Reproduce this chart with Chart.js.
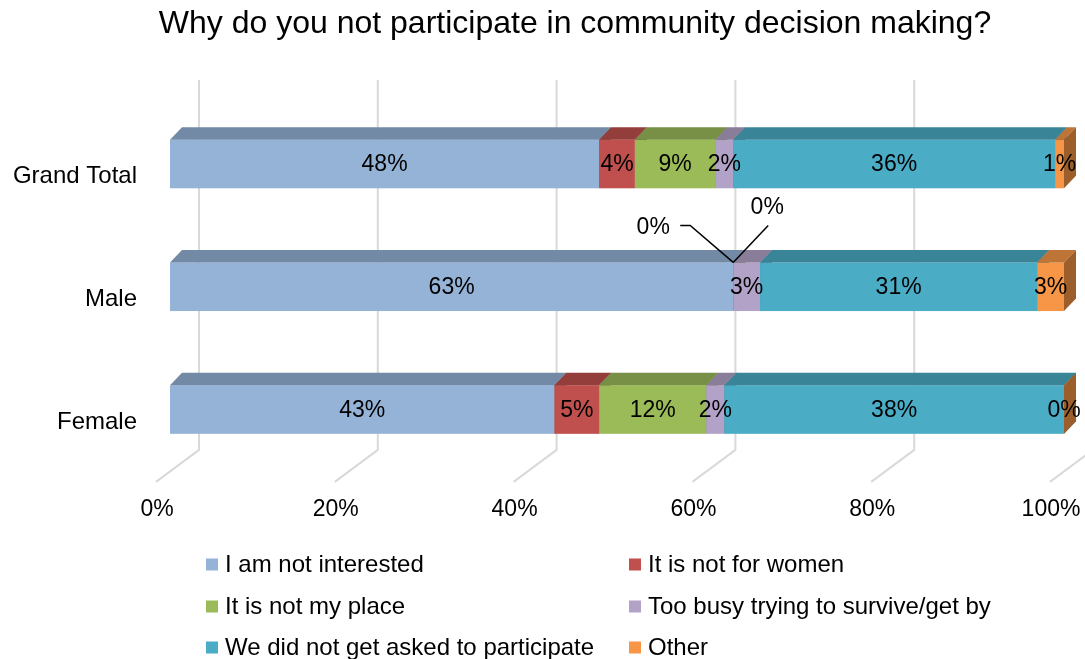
<!DOCTYPE html>
<html>
<head>
<meta charset="utf-8">
<script src="https://cdn.jsdelivr.net/npm/chart.js@4.4.1/dist/chart.umd.min.js"></script>
<style>
  html, body { margin: 0; padding: 0; background: #ffffff; }
  #wrap { width: 1085px; height: 659px; position: relative; }
</style>
</head>
<body>
<div id="wrap"><canvas id="chart" width="1085" height="659"></canvas></div>
<script>
// Survey answers, share of respondents (%) per group
const categories = ['Grand Total', 'Male', 'Female'];
const seriesNames = [
  'I am not interested',
  'It is not for women',
  'It is not my place',
  'Too busy trying to survive/get by',
  'We did not get asked to participate',
  'Other'
];
const notInterested = [48, 63, 43];
const notForWomen   = [4, 0, 5];
const notMyPlace    = [9, 0, 12];
const tooBusy       = [2, 3, 2];
const notAsked      = [36, 31, 38];
const other         = [1, 3, 0];
const xTickStep = 20;

const seriesValues = [notInterested, notForWomen, notMyPlace, tooBusy, notAsked, other];
const seriesColors = ['#95B3D7', '#C0504D', '#9BBB59', '#B3A2C7', '#4BACC6', '#F79646'];

const FONT = "'Liberation Sans', Arial, Helvetica, sans-serif";
Chart.defaults.font.family = FONT;
Chart.defaults.color = '#000000';

function shade(hex, f) {
  const n = parseInt(hex.slice(1), 16);
  const r = Math.round(((n >> 16) & 255) * f);
  const g = Math.round(((n >> 8) & 255) * f);
  const b = Math.round((n & 255) * f);
  return `rgb(${r},${g},${b})`;
}

// Centre the title over a chosen horizontal span
const titleSpan = {
  id: 'titleSpan',
  afterLayout(chart, args, o) {
    const tb = chart.titleBlock;
    if (tb) {
      tb.left = o.left;
      tb.right = o.right;
      tb.width = o.right - o.left;
    }
  }
};

// Back wall / floor gridlines, extruded boxes and value labels
const box3d = {
  id: 'box3d',
  beforeDatasetsDraw(chart, args, o) {
    const { ctx, chartArea } = chart;
    const xs = chart.scales.x;
    ctx.save();
    ctx.strokeStyle = o.gridColor;
    ctx.lineWidth = o.gridWidth;
    xs.ticks.forEach(t => {
      const px = xs.getPixelForValue(t.value) + o.wallShift;
      const floorBack = chartArea.bottom + o.floorBackDy;
      ctx.beginPath();
      ctx.moveTo(px, chartArea.top + o.wallTopDy);
      ctx.lineTo(px, floorBack);
      ctx.lineTo(px + o.floorDx, floorBack + o.floorDy);
      ctx.stroke();
    });
    ctx.restore();
  },
  beforeDatasetDraw() {
    return false; // flat bars are replaced by the boxes below
  },
  afterDatasetsDraw(chart, args, o) {
    const { ctx } = chart;
    const dx = o.depthX, dy = o.depthY;
    ctx.save();
    chart.data.datasets.forEach((ds, di) => {
      const meta = chart.getDatasetMeta(di);
      const c = ds.backgroundColor;
      meta.data.forEach(el => {
        const p = el.getProps(['x', 'y', 'base', 'height'], true);
        const x0 = Math.min(p.x, p.base), x1 = Math.max(p.x, p.base);
        const top = p.y - p.height / 2, bottom = p.y + p.height / 2;
        // front
        ctx.fillStyle = c;
        ctx.fillRect(x0, top, x1 - x0, bottom - top);
        // top
        ctx.fillStyle = shade(c, o.topShade);
        ctx.beginPath();
        ctx.moveTo(x0, top);
        ctx.lineTo(x0 + dx, top + dy);
        ctx.lineTo(x1 + dx, top + dy);
        ctx.lineTo(x1, top);
        ctx.closePath();
        ctx.fill();
        // right side
        ctx.fillStyle = shade(c, o.sideShade);
        ctx.beginPath();
        ctx.moveTo(x1, top);
        ctx.lineTo(x1 + dx, top + dy);
        ctx.lineTo(x1 + dx, bottom + dy);
        ctx.lineTo(x1, bottom);
        ctx.closePath();
        ctx.fill();
      });
    });

    // value labels
    ctx.font = `${o.labelSize}px ${FONT}`;
    ctx.textAlign = 'center';
    ctx.textBaseline = 'middle';
    ctx.fillStyle = '#000000';
    ctx.strokeStyle = '#000000';
    ctx.lineWidth = 1.5;
    chart.data.datasets.forEach((ds, di) => {
      const meta = chart.getDatasetMeta(di);
      meta.data.forEach((el, i) => {
        const p = el.getProps(['x', 'y', 'base', 'height'], true);
        const text = Math.round(ds.data[i]) + '%';
        const call = o.callouts[i + ':' + di];
        if (call) {
          const ax = Math.min(p.x, p.base), ay = p.y - p.height / 2;
          ctx.beginPath();
          call.line.forEach((pt, k) => {
            if (k === 0) ctx.moveTo(ax + pt[0], ay + pt[1]);
            else ctx.lineTo(ax + pt[0], ay + pt[1]);
          });
          ctx.stroke();
          ctx.fillText(text, ax + call.text[0], ay + call.text[1]);
        } else {
          ctx.fillText(text, (p.x + p.base) / 2, p.y + 1);
        }
      });
    });
    ctx.restore();
  }
};

// Two-column legend under the plot
const gridLegend = {
  id: 'gridLegend',
  afterDraw(chart, args, o) {
    const { ctx } = chart;
    ctx.save();
    ctx.font = `${o.size}px ${FONT}`;
    ctx.textAlign = 'left';
    ctx.textBaseline = 'middle';
    chart.data.datasets.forEach((ds, di) => {
      const col = di % o.columns.length;
      const row = Math.floor(di / o.columns.length);
      const x = o.columns[col];
      const y = o.rows[row];
      ctx.fillStyle = ds.backgroundColor;
      ctx.fillRect(x, y - o.box / 2, o.box, o.box);
      ctx.fillStyle = '#000000';
      ctx.fillText(ds.label, x + o.box + o.gap, y + 1);
    });
    ctx.restore();
  }
};

new Chart(document.getElementById('chart'), {
  type: 'bar',
  data: {
    labels: categories,
    datasets: seriesNames.map((name, k) => ({
      label: name,
      data: seriesValues[k],
      backgroundColor: seriesColors[k],
      borderWidth: 0,
      categoryPercentage: 1,
      barPercentage: 0.396
    }))
  },
  plugins: [titleSpan, box3d, gridLegend],
  options: {
    indexAxis: 'y',
    responsive: false,
    animation: false,
    devicePixelRatio: 1,
    layout: { padding: { left: 0, right: 21, top: 0, bottom: 0 } },
    scales: {
      x: {
        stacked: true,
        min: 0,
        max: 100,
        grid: { display: false, drawTicks: false },
        border: { display: false },
        ticks: {
          stepSize: xTickStep,
          callback: v => v + '%',
          font: { size: 23 },
          color: '#000000',
          padding: 25,
          labelOffset: -13,
          maxRotation: 0
        },
        afterFit(s) {
          s.height = 188.1;
          s.paddingLeft = 0;
          s.paddingRight = 0;
        }
      },
      y: {
        stacked: true,
        grid: { display: false, drawTicks: false },
        border: { display: false },
        ticks: {
          font: { size: 24 },
          color: '#000000',
          padding: 33,
          labelOffset: 12.5
        },
        afterFit(s) {
          s.width = 170;
        }
      }
    },
    plugins: {
      legend: { display: false },
      tooltip: { enabled: false },
      title: {
        display: true,
        text: 'Why do you not participate in community decision making?',
        color: '#000000',
        font: { size: 32, weight: 'normal' },
        padding: { top: 5, bottom: 59.2 }
      },
      titleSpan: { left: 65, right: 1085 },
      box3d: {
        depthX: 12,
        depthY: -12.5,
        topShade: 0.77,
        sideShade: 0.63,
        gridColor: '#D9D9D9',
        gridWidth: 2,
        wallShift: 29,
        wallTopDy: -22.6,
        floorBackDy: -21,
        floorDx: -43,
        floorDy: 32,
        labelSize: 23,
        callouts: {
          '1:1': { text: [-80, -35], line: [[-53, -37], [-43, -37], [0, 0]] },
          '1:2': { text: [34, -55], line: [[35, -37], [0, 0]] }
        }
      },
      gridLegend: {
        columns: [206, 629],
        rows: [564.5, 606.5, 647.5],
        box: 12,
        gap: 7,
        size: 24
      }
    }
  }
});
</script>
</body>
</html>
